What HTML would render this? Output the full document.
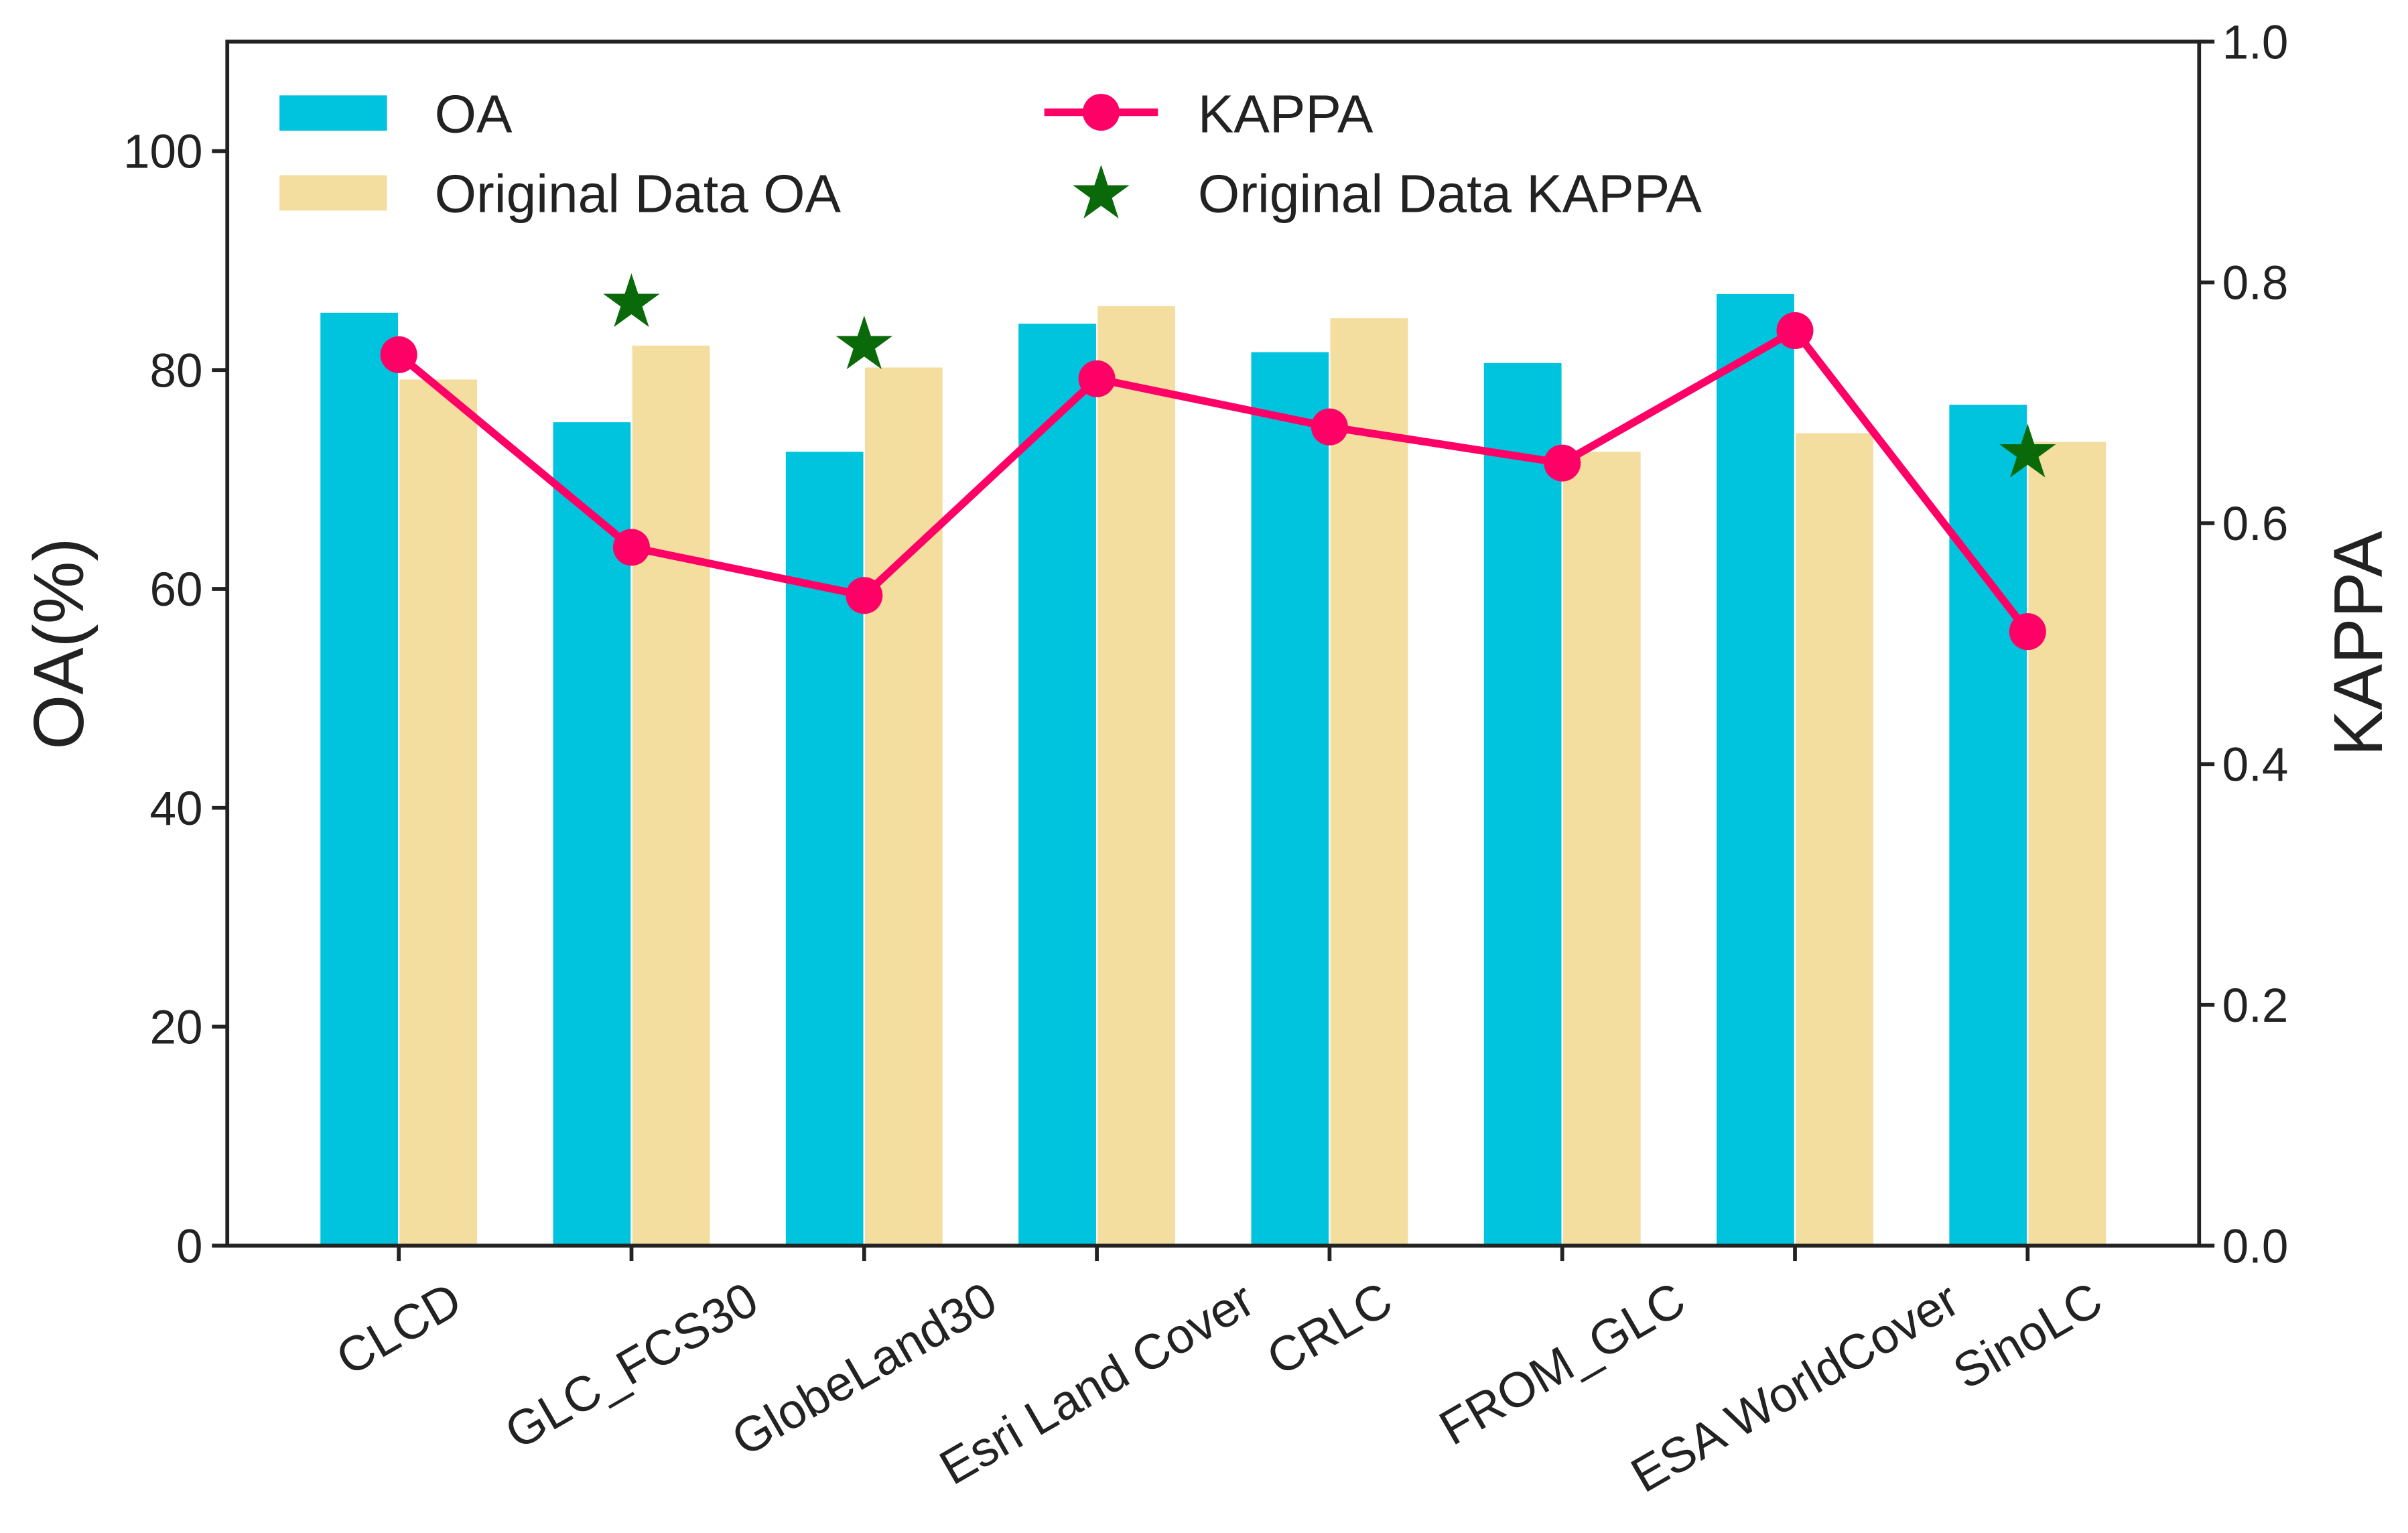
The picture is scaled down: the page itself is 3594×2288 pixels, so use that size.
<!DOCTYPE html>
<html><head><meta charset="utf-8"><style>
html,body{margin:0;padding:0;background:#fff;}
svg{display:block;font-family:"Liberation Sans",Arial,sans-serif;}
</style></head><body>
<svg id="chart" width="3594" height="2288" viewBox="0 0 1568 998" xmlns="http://www.w3.org/2000/svg">
<g id="bars"></g>
<g id="line"></g>
<g id="axes"></g>
<g id="legend">
  <rect x="182" y="62" width="70" height="23" fill="#00c3dd"/>
  <text x="283" y="86" font-size="35" fill="#222">OA</text>
  <rect x="182" y="114" width="70" height="23" fill="#f3dd9f"/>
  <text x="283" y="138" font-size="35" fill="#222">Original Data OA</text>
  <line x1="680" y1="73" x2="754" y2="73" stroke="#ff0066" stroke-width="5"/>
  <circle cx="717" cy="73" r="12" fill="#ff0066"/>
  <text x="780" y="86" font-size="35" fill="#222">KAPPA</text>
  <text x="717" y="142" font-size="48" fill="#0a6a0a" text-anchor="middle">★</text>
  <text x="780" y="138" font-size="35" fill="#222">Original Data KAPPA</text>
</g>
</svg>
<script>
const categories = ["CLCD","GLC_FCS30","GlobeLand30","Esri Land Cover","CRLC","FROM_GLC","ESA WorldCover","SinoLC"];
const oaValues = [85.3,75.3,72.6,84.3,81.7,80.7,87.0,76.9];
const originalOaValues = [79.2,82.3,80.3,85.9,84.8,72.6,74.3,73.5];
const kappaValues = [0.74,0.58,0.54,0.72,0.68,0.65,0.76,0.51];
const originalKappaValues = [null,0.785,0.75,null,null,null,null,0.66];
const leftTicks = [0,20,40,60,80,100];
const rightTicks = [0.0,0.2,0.4,0.6,0.8,1.0];

const NS="http://www.w3.org/2000/svg";
const L=148,R=1432,T=27,B=811;
const xmin=-0.737,xmax=7.737;
const xs=i=>L+(i-xmin)/(xmax-xmin)*(R-L);
const yl=v=>B-v/110*(B-T);
const yr=v=>B-v/1.0*(B-T);
const bw=0.34*(R-L)/(xmax-xmin);
function mk(tag,attrs,parent,text){const e=document.createElementNS(NS,tag);for(const k in attrs)e.setAttribute(k,attrs[k]);if(text!==undefined)e.textContent=text;parent.appendChild(e);return e;}
const gb=document.getElementById('bars'),gl=document.getElementById('line'),ga=document.getElementById('axes');
categories.forEach((c,i)=>{
  const cx=xs(i);
  let r=mk('rect',{x:cx-bw,y:yl(oaValues[i]),width:bw,height:B-yl(oaValues[i]),fill:'#00c3dd',stroke:'#fff','stroke-width':1},gb);
  
  
  let r2=mk('rect',{x:cx,y:yl(originalOaValues[i]),width:bw,height:B-yl(originalOaValues[i]),fill:'#f3dd9f',stroke:'#fff','stroke-width':1},gb);
  
  
});
const pts=kappaValues.map((v,i)=>xs(i)+','+yr(v)).join(' ');
const pl=mk('polyline',{points:pts,fill:'none',stroke:'#ff0066','stroke-width':5,'stroke-linejoin':'round'},gl);


kappaValues.forEach((v,i)=>{
  const c=mk('circle',{cx:xs(i),cy:yr(v),r:12,fill:'#ff0066'},gl);
  
  
});
originalKappaValues.forEach((v,i)=>{
  if(v===null)return;
  const s=mk('text',{x:xs(i),y:yr(v)+17,'font-size':48,fill:'#0a6a0a','text-anchor':'middle'},gl,'★');
  
  
});
const fr=mk('rect',{x:L,y:T,width:R-L,height:B-T,fill:'none',stroke:'#222','stroke-width':2.5},ga);


leftTicks.forEach(t=>{
  const y=yl(t);
  const tl=mk('line',{x1:L-10,y1:y,x2:L,y2:y,stroke:'#222','stroke-width':2.5},ga);
  
  
  const tx=mk('text',{x:L-16,y:y+11,'font-size':31,'text-anchor':'end',fill:'#222'},ga,String(t));
  
  
});
rightTicks.forEach(t=>{
  const y=yr(t);
  const tl=mk('line',{x1:R,y1:y,x2:R+10,y2:y,stroke:'#222','stroke-width':2.5},ga);
  
  
  const tx=mk('text',{x:R+15,y:y+11,'font-size':31,fill:'#222'},ga,t.toFixed(1));
  
  
});
const fs=32;
categories.forEach((c,i)=>{
  const x=xs(i);
  const tl=mk('line',{x1:x,y1:B,x2:x,y2:B+10,stroke:'#222','stroke-width':2.5},ga);
  
  
  const tx=mk('text',{x:0,y:0,'font-size':fs,'text-anchor':'middle','dominant-baseline':'central',fill:'#222'},ga,c);
  
  
  const len=tx.getComputedTextLength();
  const h=fs*0.75;
  const boxH=len*0.5+h*0.866;
  const cy=B+22+boxH/2;
  tx.setAttribute('x',x);tx.setAttribute('y',cy);
  tx.setAttribute('transform',`rotate(-30 ${x} ${cy})`);
});
const yt=mk('text',{x:54,y:419,'font-size':46,'text-anchor':'middle',fill:'#222',transform:'rotate(-90 54 419)'},ga,'OA(%)');


const yt2=mk('text',{x:1551,y:419,'font-size':45,'text-anchor':'middle',fill:'#222',transform:'rotate(-90 1551 419)'},ga,'KAPPA');


</script>
</body></html>
